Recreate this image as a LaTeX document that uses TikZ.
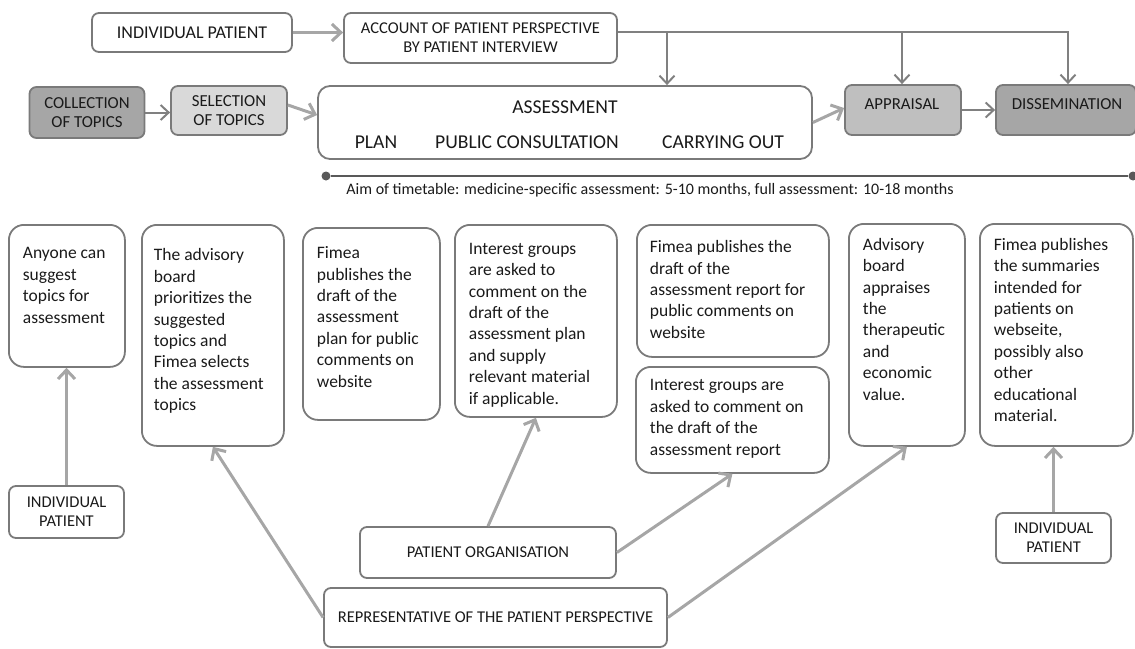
\documentclass[tikz,border=0pt]{standalone}
\usepackage{fontspec}
\setmainfont{Carlito}
\usetikzlibrary{arrows.meta}
\definecolor{bd}{HTML}{7A7A7A}
\definecolor{arl}{HTML}{A6A6A6}
\definecolor{ard}{HTML}{808080}
\definecolor{tl}{HTML}{595959}
\definecolor{fA}{HTML}{A6A6A6}
\definecolor{fS}{HTML}{D9D9D9}
\definecolor{fP}{HTML}{BFBFBF}
\definecolor{tx}{HTML}{1A1A1A}
\begin{document}
\begin{tikzpicture}[x=1pt,y=-1pt,
  topbox/.style={draw=bd, line width=1.8pt, rounded corners=7pt, inner sep=0pt, align=center, text=tx, font=\fontsize{16.5}{19}\selectfont},
  lowbox/.style={draw=bd, line width=1.8pt, rounded corners=15pt, anchor=north west, text=tx, font=\fontsize{17.5}{21.4}\selectfont},
  lbl/.style={text=tx, inner sep=0pt, font=\fontsize{16.8}{19}\selectfont},
  big/.style={text=tx, inner sep=0pt, font=\fontsize{19.6}{22}\selectfont},
  la/.style={draw=arl, line width=3pt, -{Straight Barb[length=9pt,width=17pt]}},
  da/.style={draw=ard, line width=2pt, -{Straight Barb[length=8pt,width=15pt]}},
]
\useasboundingbox (0,0) rectangle (1135,648);

% ---- top row ----
\node[topbox, font=\fontsize{18}{20}\selectfont, minimum width=200pt, minimum height=39pt] (ip1) at (192,32.5) {INDIVIDUAL PATIENT};
\node[topbox, minimum width=273pt, minimum height=50pt] (acc) at (480.5,38) {ACCOUNT OF PATIENT PERSPECTIVE\\BY PATIENT INTERVIEW};

% ---- middle row ----
\node[topbox, fill=fA, font=\fontsize{16.8}{18.5}\selectfont, minimum width=115pt, minimum height=51pt] (coll) at (87,112.5) {COLLECTION\\OF TOPICS};
\node[topbox, fill=fS, font=\fontsize{16.8}{18.5}\selectfont, minimum width=116pt, minimum height=49pt] (sel) at (229,110.5) {SELECTION\\OF TOPICS};
\node[topbox, rounded corners=12pt, minimum width=494pt, minimum height=73pt] (assess) at (565,122.5) {};
\node[big] (tass) at (565,107) {ASSESSMENT};
\node[big] (tplan) at (376,142) {PLAN};
\node[big] (tpub) at (527,142) {PUBLIC CONSULTATION};
\node[big] (tcar) at (723,142) {CARRYING OUT};
\node[topbox, fill=fP, minimum width=116pt, minimum height=50pt] (appr) at (903,110) {};
\node[lbl] (tappr) at (902,104) {APPRAISAL};
\node[topbox, fill=fA, minimum width=140pt, minimum height=50pt] (diss) at (1066,110) {};
\node[lbl] (tdiss) at (1067,104) {DISSEMINATION};

% ---- timeline ----
\node[circle, fill=tl, inner sep=0pt, minimum size=9pt] (t1) at (326,176) {};
\node[circle, fill=tl, inner sep=0pt, minimum size=9pt] (t2) at (1133,176) {};
\draw[tl, line width=2.5pt] (t1) -- (t2);
\node[anchor=base, text=tx, inner sep=0pt, font=\fontsize{16}{18}\selectfont] (aim) at (650,194) {Aim of timetable: medicine-specific assessment: 5-10 months, full assessment: 10-18 months};

% ---- top connectors ----
\draw[la] (ip1.east) -- (ip1.east -| acc.west);
\coordinate (bus) at (1068,32);
\coordinate (b1) at (667,32);
\coordinate (b2) at (902,32);
\draw[da] (acc.east |- bus) -- (bus) -- (bus |- diss.north);
\draw[da] (b1) -- (b1 |- assess.north);
\draw[da] (b2) -- (b2 |- appr.north);
\draw[da] (coll.east) -- (coll.east -| sel.west);
\draw[la] ([yshift=5.5pt]sel.east) -- ([yshift=7.5pt]assess.west);
\draw[la] (assess.east) -- ([yshift=2pt]appr.west);
\draw[da] (appr.east) -- (appr.east -| diss.west);

% ---- lower boxes ----
\node[lowbox, inner xsep=14pt, inner ysep=19.1pt] (A) at (8,224)
  {\parbox[t][103.8pt][t]{88pt}{\raggedright\strut Anyone can\\suggest\\topics for\\assessment}};
\node[lowbox, inner xsep=12pt, inner ysep=21.1pt] (B) at (141,224)
  {\parbox[t][178.8pt][t]{118pt}{\raggedright\strut The advisory\\board\\prioritizes the\\suggested\\topics and\\Fimea selects\\the assessment\\topics}};
\node[lowbox, inner xsep=14pt, inner ysep=15.8pt] (C) at (302,227)
  {\parbox[t][160.4pt][t]{109pt}{\raggedright\strut Fimea\\publishes the\\draft of the\\assessment\\plan for public\\comments on\\website}};
\node[lowbox, inner xsep=14pt, inner ysep=14.4pt] (D) at (454,224)
  {\parbox[t][163.2pt][t]{134pt}{\raggedright\strut Interest groups\\are asked to\\comment on the\\draft of the\\assessment plan\\and supply\\relevant material\\if applicable.}};
\node[lowbox, inner xsep=13pt, inner ysep=12.8pt] (E) at (636,224)
  {\parbox[t][106.4pt][t]{166pt}{\raggedright\strut Fimea publishes the\\draft of the\\assessment report for\\public comments on\\website}};
\node[lowbox, inner xsep=14pt, inner ysep=9.1pt] (F) at (635,366)
  {\parbox[t][87.8pt][t]{165pt}{\raggedright\strut Interest groups are\\asked to comment on\\the draft of the\\assessment report}};
\node[lowbox, inner xsep=14pt, inner ysep=11.4pt] (G) at (848,223)
  {\parbox[t][199.2pt][t]{88pt}{\raggedright\strut Advisory\\board\\appraises\\the\\therapeutic\\and\\economic\\value.}};
\node[lowbox, inner xsep=14pt, inner ysep=11.4pt] (H) at (979,223)
  {\parbox[t][199.2pt][t]{125pt}{\raggedright\strut Fimea publishes\\the summaries\\intended for\\patients on\\webseite,\\possibly also\\other\\educational\\material.}};

% ---- bottom label boxes ----
\node[topbox, minimum width=115pt, minimum height=52pt] (ip2) at (66.5,512) {INDIVIDUAL\\PATIENT};
\node[topbox, minimum width=256pt, minimum height=51pt] (po) at (488,552.5) {PATIENT ORGANISATION};
\node[topbox, minimum width=343pt, minimum height=59pt] (rep) at (495.5,617.5) {REPRESENTATIVE OF THE PATIENT PERSPECTIVE};
\node[topbox, minimum width=115pt, minimum height=50pt] (ip3) at (1053.5,538) {INDIVIDUAL\\PATIENT};

% ---- bottom connectors ----
\draw[la] (ip2.north) -- (ip2.north |- A.south);
\draw[la] (rep.west) -- (B.south);
\draw[la] (po.north) -- (D.south);
\draw[la] (po.east) -- (F.south);
\draw[la] (rep.east) -- (G.south);
\draw[la] (ip3.north) -- (ip3.north |- H.south);
\end{tikzpicture}
\end{document}
